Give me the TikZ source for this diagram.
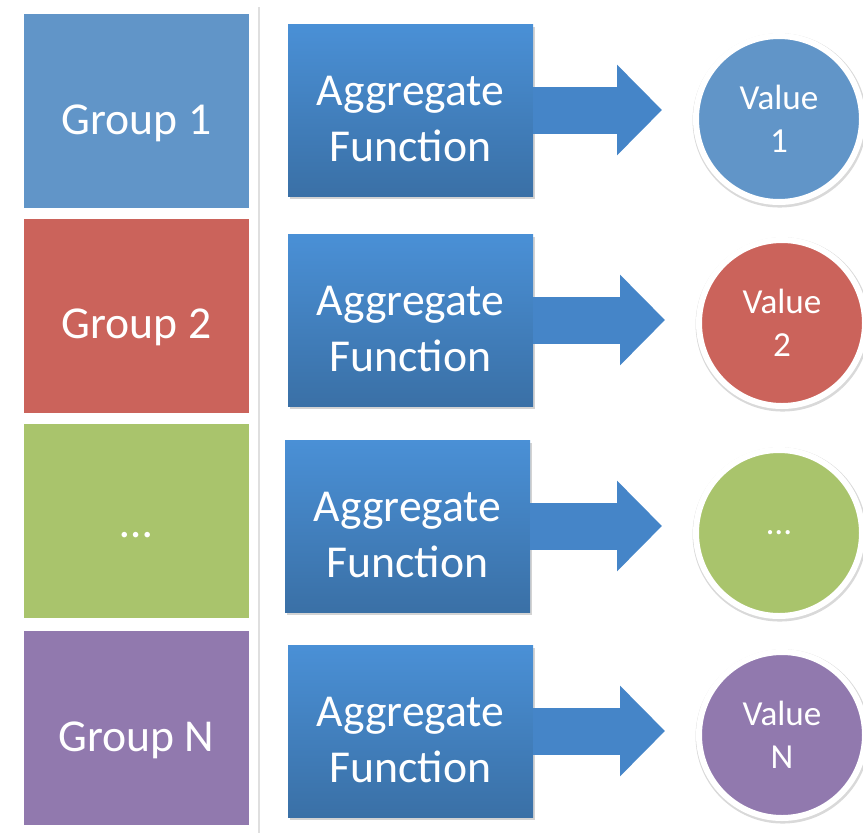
\documentclass[tikz,border=0pt]{standalone}
\usepackage{fontspec}
\setmainfont{Carlito}
\usetikzlibrary{arrows.meta,shadows}

\definecolor{grpblue}{HTML}{6195C8}
\definecolor{grpred}{HTML}{CB635B}
\definecolor{grpgreen}{HTML}{A9C46C}
\definecolor{grppurple}{HTML}{9179AE}
\definecolor{aggtop}{HTML}{4A90D6}
\definecolor{aggbottom}{HTML}{3A70A6}
\definecolor{arrowblue}{HTML}{4585C8}

\tikzset{
	group/.style={shape=rectangle,minimum width=6.75cm,minimum height=5.82cm,text=white,text height=1.65cm,text depth=0.26cm,font=\fontsize{39}{47}\selectfont},
	aggregate/.style={shape=rectangle,minimum width=7.35cm,minimum height=5.16cm,top color=aggtop,bottom color=aggbottom,text=white,align=center,text height=3.1cm,text depth=0cm,font=\fontsize{39}{48}\selectfont,drop shadow={opacity=0.35,shadow xshift=0.06cm,shadow yshift=-0.09cm}},
	value/.style={shape=circle,draw=white,line width=0.18cm,minimum size=4.98cm,text=white,align=center,font=\fontsize{30}{37}\selectfont,drop shadow={opacity=0.3,shadow scale=1.05,shadow xshift=0.02cm,shadow yshift=-0.04cm}},
	bigarrow/.style={draw=arrowblue,line width=1.41cm,-{Triangle[length=1.35cm,width=2.64cm]},shorten >=0.93cm}
}

\begin{document}
\begin{tikzpicture}
	\useasboundingbox (0,0) rectangle (25.89,-24.96);
	% white panel behind the groups
	\fill[white,drop shadow={opacity=0.25,shadow xshift=0.05cm,shadow yshift=-0.05cm}] (0.42,-0.15) rectangle (7.74,-25.3);

	\node[group,fill=grpblue] (G1) at (4.095,-3.33) {Group 1};
	\node[group,fill=grpred] (G2) at (4.095,-9.465) {Group 2};
	\node[group,fill=grpgreen,text height=1.23cm] (G3) at (4.095,-15.63) {…};
	\node[group,fill=grppurple] (GN) at (4.095,-21.84) {Group N};

	\node[aggregate] (F1) at (12.315,-3.3) {Aggregate\\Function};
	\node[aggregate] (F2) at (12.315,-9.6) {Aggregate\\Function};
	\node[aggregate] (F3) at (12.225,-15.78) {Aggregate\\Function};
	\node[aggregate] (FN) at (12.315,-21.93) {Aggregate\\Function};

	\node[value,fill=grpblue] (V1) at (23.37,-3.57) {Value\\1};
	\node[value,fill=grpred] (V2) at (23.46,-9.69) {Value\\2};
	\node[value,fill=grpgreen] (V3) at (23.37,-15.99) {…};
	\node[value,fill=grppurple] (VN) at (23.46,-22.05) {Value\\N};

	\path [bigarrow] (F1.east) -- (F1.east -| V1.west);
	\path [bigarrow] (F2.east) -- (F2.east -| V2.west);
	\path [bigarrow] (F3.east) -- (F3.east -| V3.west);
	\path [bigarrow] (FN.east) -- (FN.east -| VN.west);
\end{tikzpicture}
\end{document}
